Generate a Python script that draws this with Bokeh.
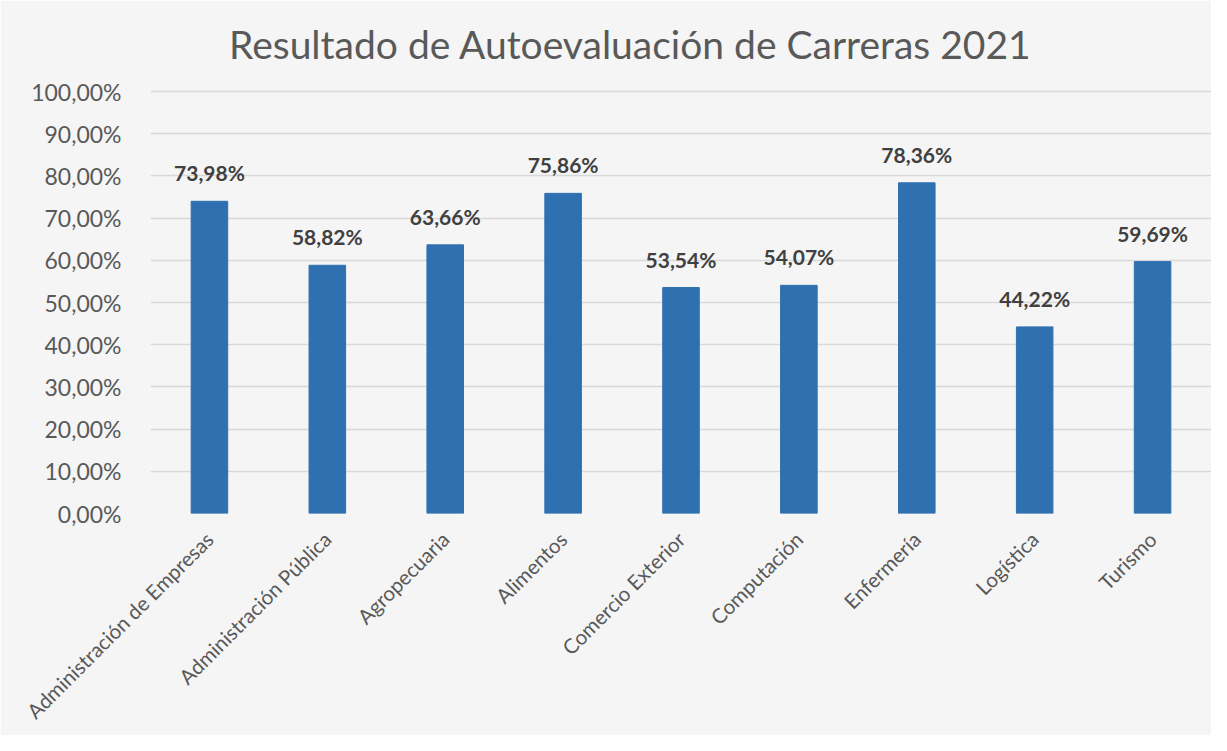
from bokeh.plotting import figure
from bokeh.models import ColumnDataSource, FixedTicker, Range1d
from bokeh.core.properties import value
from bokeh.embed import file_html
from bokeh.resources import INLINE
from math import pi

titulo = "Resultado de Autoevaluación de Carreras 2021"
carreras = ["Administración de Empresas", "Administración Pública", "Agropecuaria",
            "Alimentos", "Comercio Exterior", "Computación", "Enfermería",
            "Logística", "Turismo"]
resultados = [73.98, 58.82, 63.66, 75.86, 53.54, 54.07, 78.36, 44.22, 59.69]
etiquetas = ["73,98%", "58,82%", "63,66%", "75,86%", "53,54%", "54,07%", "78,36%", "44,22%", "59,69%"]
y_ticks = [0, 10, 20, 30, 40, 50, 60, 70, 80, 90, 100]
y_tick_labels = ["0,00%", "10,00%", "20,00%", "30,00%", "40,00%", "50,00%",
                 "60,00%", "70,00%", "80,00%", "90,00%", "100,00%"]

FONT = "Lato"
BG = "#f5f5f5"

# layout (pixels)
W, H = 1211, 735
TOP, BOTTOM, LEFT = 20, 222, 150
Y100_PX = 91          # where 100 % sits on the canvas
TITLE_BASE_PX = 43    # title baseline on the canvas
frame_bottom = H - BOTTOM
k = (frame_bottom - Y100_PX) / 100.0
y_end = (frame_bottom - TOP) / k
title_y = (frame_bottom - TITLE_BASE_PX) / k
cat_w = (W - LEFT) / len(carreras)
title_x = (630 - LEFT) / cat_w

src = ColumnDataSource(dict(x=carreras, y=resultados, lab=etiquetas))

p = figure(x_range=carreras, y_range=Range1d(0, y_end), width=W, height=H,
           output_backend="svg", toolbar_location=None,
           background_fill_color=BG, border_fill_color=BG,
           min_border_left=LEFT, min_border_right=0, min_border_top=TOP, min_border_bottom=BOTTOM)
p.outline_line_color = None
p.title.text = ""

p.text(x=[title_x], y=[title_y], text=[titulo], text_align="center", text_baseline="alphabetic",
       text_font=value(FONT), text_font_size="39px", text_color="#595959")

p.vbar(x="x", top="y", width=0.31, source=src, fill_color="#2e70b0", line_color="#2e70b0")
p.text(x="x", y="y", text="lab", source=src, text_align="center", text_baseline="bottom",
       y_offset=-16, text_font=value(FONT), text_font_style="bold",
       text_font_size="21px", text_color="#404040")

p.yaxis.ticker = FixedTicker(ticks=y_ticks)
p.yaxis.major_label_overrides = {t: l for t, l in zip(y_ticks, y_tick_labels)}
p.yaxis.axis_line_color = None
p.yaxis.major_tick_line_color = None
p.yaxis.minor_tick_line_color = None
p.yaxis.major_label_text_font = FONT
p.yaxis.major_label_text_font_size = "23px"
p.yaxis.major_label_text_color = "#595959"
p.yaxis.major_label_standoff = 23

p.xaxis.axis_line_color = None
p.xaxis.major_tick_line_color = None
p.xaxis.major_label_orientation = pi / 4
p.xaxis.major_label_text_font = FONT
p.xaxis.major_label_text_font_size = "20.5px"
p.xaxis.major_label_text_color = "#595959"
p.xaxis.major_label_standoff = 16

p.xgrid.grid_line_color = None
p.ygrid.grid_line_color = "#d9d9d9"
p.ygrid.grid_line_width = 1.5

open("out.html", "w").write(file_html(p, INLINE))
